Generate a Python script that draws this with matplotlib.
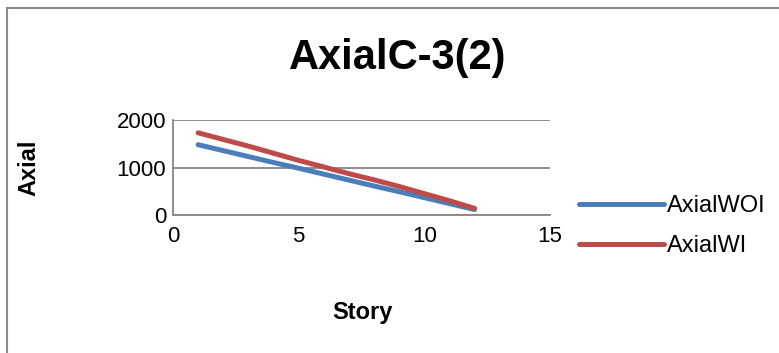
import matplotlib.pyplot as plt
from matplotlib.patches import Rectangle

# 층별 축력
story = [1, 2, 3, 4, 5, 6, 7, 8, 9, 10, 11, 12]
axial_woi = [1480, 1355, 1230, 1105, 985, 860, 735, 610, 490, 365, 240, 115]
axial_wi = [1730, 1590, 1450, 1300, 1150, 1010, 870, 740, 600, 450, 300, 140]

plt.rcParams['font.family'] = ['Liberation Sans', 'DejaVu Sans']

fig = plt.figure(figsize=(7.79, 3.53), dpi=100)
# 차트 테두리
fig.patches.append(Rectangle((7 / 779, -0.05), 1.0, 1 - 8 / 353 + 0.05,
                             transform=fig.transFigure, fill=False,
                             edgecolor='#8c8c8c', linewidth=1.5))

ax = fig.add_axes([173 / 779, 1 - 215 / 353, (550 - 173) / 779, (215 - 120) / 353])
ax.plot(story, axial_woi, color='#4a7ebb', lw=3.6, label='AxialWOI', solid_capstyle='round')
ax.plot(story, axial_wi, color='#be4b48', lw=3.6, label='AxialWI', solid_capstyle='round')

ax.set_xlim(0, 15)
ax.set_ylim(0, 2000)
ax.set_xticks([0, 5, 10, 15])
ax.set_yticks([0, 1000, 2000])
ax.tick_params(length=0, labelsize=16)
ax.tick_params(axis='y', pad=5)
ax.tick_params(axis='x', pad=8)
ax.grid(axis='y', color='#868686', lw=1.3)
ax.set_axisbelow(True)
for s in ['top', 'right']:
    ax.spines[s].set_visible(False)
for s in ['left', 'bottom']:
    ax.spines[s].set_color('#868686')
    ax.spines[s].set_linewidth(1.3)

fig.text(398 / 779, 1 - 58 / 353, 'AxialC-3(2)', ha='center', va='center',
         fontsize=30, fontweight='bold')
fig.text(362 / 779, 1 - 312 / 353, 'Story', ha='center', va='center',
         fontsize=17, fontweight='bold')
fig.text(29 / 779, 1 - 168 / 353, 'Axial', ha='center', va='center',
         fontsize=17, fontweight='bold', rotation=90)

ax.legend(loc='upper left', bbox_to_anchor=(558 / 779, 1 - 174 / 353),
          bbox_transform=fig.transFigure, frameon=False, fontsize=17,
          handlelength=3.6, handletextpad=0.1, labelspacing=0.75)

fig.savefig('out.png', dpi=100)
